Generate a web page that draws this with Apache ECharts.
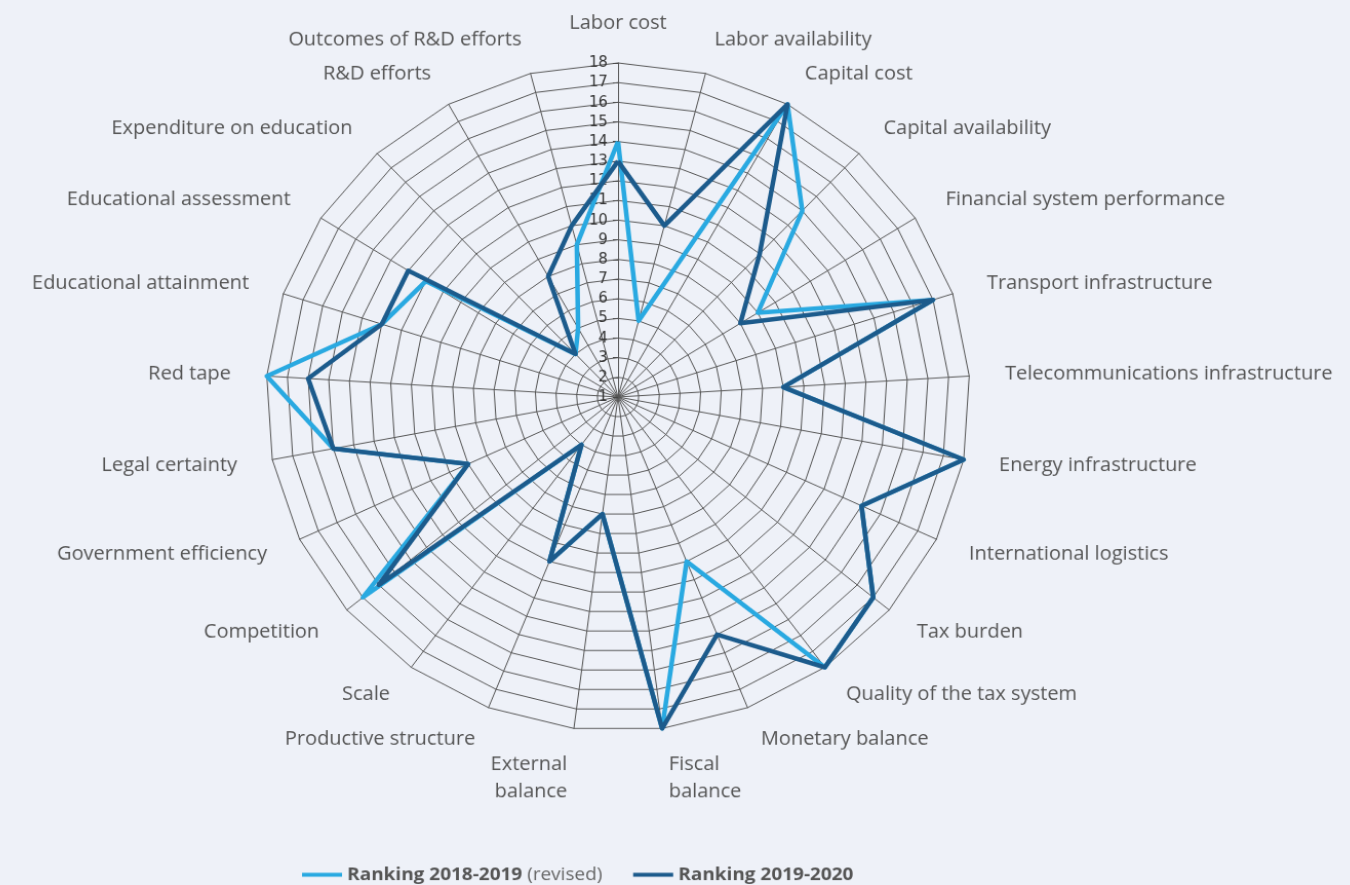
<!DOCTYPE html>
<html>
<head>
<meta charset="utf-8">
<title>Competitiveness ranking radar</title>
<script src="https://cdn.jsdelivr.net/npm/echarts@6/dist/echarts.min.js"></script>
<style>
  html, body { margin: 0; padding: 0; background: #eef1f8; overflow: hidden; }
  /* the source picture is a bit wider than tall, so stretch the canvas the same way */
  #plot { width: 1350px; height: 920px; transform-origin: 618px 397px; transform: scale(1.026, 0.974); }
</style>
</head>
<body>
<div id="plot"></div>
<script>
// indicators, clockwise from the top
var factors = [
  'Labor cost', 'Labor availability', 'Capital cost', 'Capital availability',
  'Financial system performance', 'Transport infrastructure',
  'Telecommunications infrastructure', 'Energy infrastructure',
  'International logistics', 'Tax burden', 'Quality of the tax system',
  'Monetary balance', 'Fiscal\nbalance', 'External\nbalance',
  'Productive structure', 'Scale', 'Competition', 'Government efficiency',
  'Legal certainty', 'Red tape', 'Educational attainment',
  'Educational assessment', 'Expenditure on education', 'R&D efforts',
  'Outcomes of R&D efforts'
];
var seriesNames = ['Ranking 2018-2019', 'Ranking 2019-2020'];
var rank2018 = [14, 5, 18, 14, 9, 17, 9, 18, 14, 17, 18, 10, 18, 7, 10, 4, 17, 9, 15, 18, 13, 12, 4, 5, 9];
var rank2019 = [13, 10, 18, 11, 8, 17, 9, 18, 14, 17, 18, 14, 18, 7, 10, 4, 16, 9, 15, 16, 13, 13, 4, 8, 10];
var axisMin = 1;
var axisMax = 18;

// echarts places indicators counterclockwise, so keep the first and reverse the rest
function toCcw(arr) {
  return [arr[0]].concat(arr.slice(1).reverse());
}

var indicators = toCcw(factors).map(function (name, i) {
  var ind = { name: name, min: axisMin, max: axisMax };
  if (name.indexOf('\n') >= 0) {
    ind.nameGap = 52; // two-line names sit lower
  }
  if (i === 0) {
    // only the top axis carries the 1..18 scale
    ind.nameGap = 27;
    ind.axisLabel = { show: true, color: '#333', fontSize: 16, margin: 10,
      fontFamily: 'Liberation Sans Narrow, DejaVu Sans Condensed, sans-serif' };
    ind.axisTick = { show: true, length: 5, lineStyle: { color: '#444' } };
  }
  return ind;
});

var myChart = echarts.init(document.getElementById('plot'));

var option = {
  backgroundColor: '#eef1f8',
  animation: false,
  legend: {
    left: 305,
    top: 873,
    icon: 'rect',
    itemWidth: 39,
    itemHeight: 4,
    itemGap: 30,
    data: seriesNames,
    formatter: function (name) {
      return name === seriesNames[0] ? name + ' {r|(revised)}' : name;
    },
    textStyle: {
      color: '#555',
      fontSize: 18.5,
      fontWeight: 'bold',
      fontFamily: 'Open Sans, sans-serif',
      rich: { r: { color: '#666', fontSize: 18.5, fontWeight: 'normal', fontFamily: 'Open Sans, sans-serif' } }
    }
  },
  radar: {
    center: [618, 397],
    radius: 343,
    startAngle: 90,
    shape: 'polygon',
    splitNumber: axisMax - axisMin,
    indicator: indicators,
    nameGap: 35,
    axisName: {
      color: '#555',
      fontSize: 19.5,
      lineHeight: 28,
      fontWeight: 500,
      fontFamily: 'Open Sans, sans-serif'
    },
    axisLabel: { show: false },
    axisLine: { lineStyle: { color: '#555', width: 1 } },
    splitLine: { lineStyle: { color: '#555', width: 1 } },
    splitArea: { show: false }
  },
  series: [{
    type: 'radar',
    symbol: 'none',
    data: [
      { name: seriesNames[0], value: toCcw(rank2018),
        lineStyle: { color: '#29a9e1', width: 4.5 }, itemStyle: { color: '#29a9e1' } },
      { name: seriesNames[1], value: toCcw(rank2019),
        lineStyle: { color: '#1c5b8c', width: 4.5 }, itemStyle: { color: '#1c5b8c' } }
    ]
  }]
};

myChart.setOption(option);
</script>
</body>
</html>
